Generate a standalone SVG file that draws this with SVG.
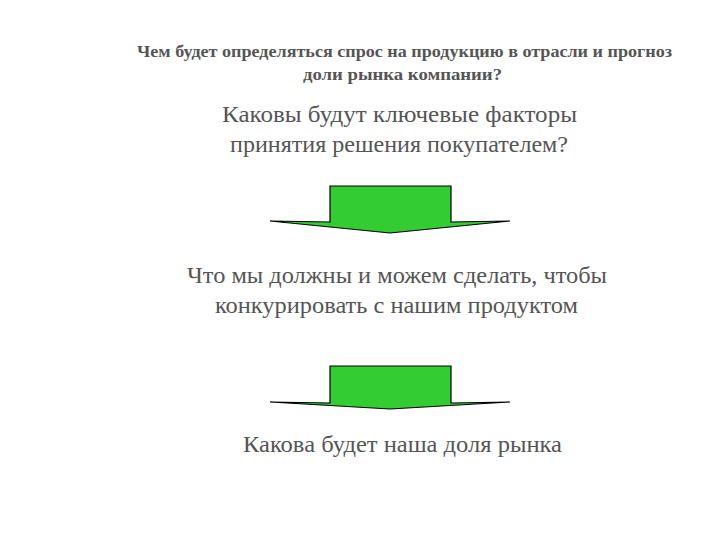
<svg xmlns="http://www.w3.org/2000/svg" width="720" height="540" viewBox="0 0 720 540">
<style>
.t{font-family:"Liberation Serif","DejaVu Serif","Times New Roman",serif;fill:#555;text-anchor:middle}
.h{font-size:16px;font-weight:bold}
.b{font-size:24px}
.arr{fill:#33cc33;stroke:#000;stroke-width:1.2;stroke-linejoin:miter}
</style>
<rect width="720" height="540" fill="#fff"/>
<g id="title"><text class="t h" x="404.5" y="57" textLength="535" lengthAdjust="spacingAndGlyphs">Чем будет определяться спрос на продукцию в отрасли и прогноз</text><text class="t h" x="402.5" y="80" textLength="199" lengthAdjust="spacingAndGlyphs">доли рынка компании?</text></g>
<g id="q1"><text class="t b" x="399.5" y="122" textLength="355" lengthAdjust="spacingAndGlyphs">Каковы будут ключевые факторы</text><text class="t b" x="399" y="152" textLength="338" lengthAdjust="spacingAndGlyphs">принятия решения покупателем?</text></g>
<g id="q2"><text class="t b" x="397" y="283" textLength="420" lengthAdjust="spacingAndGlyphs">Что мы должны и можем сделать, чтобы</text><text class="t b" x="396.5" y="313" textLength="363" lengthAdjust="spacingAndGlyphs">конкурировать с нашим продуктом</text></g>
<g id="q3"><text class="t b" x="402.5" y="452" textLength="319" lengthAdjust="spacingAndGlyphs">Какова будет наша доля рынка</text></g>
<g id="connectors">
<polygon class="arr" points="270,221 330,222 330,186 451,186 451,222 510,221 390,233"/>
<polygon class="arr" points="270,402 330,403 330,366 451,366 451,403 510,402 390,409"/>
</g>
</svg>
